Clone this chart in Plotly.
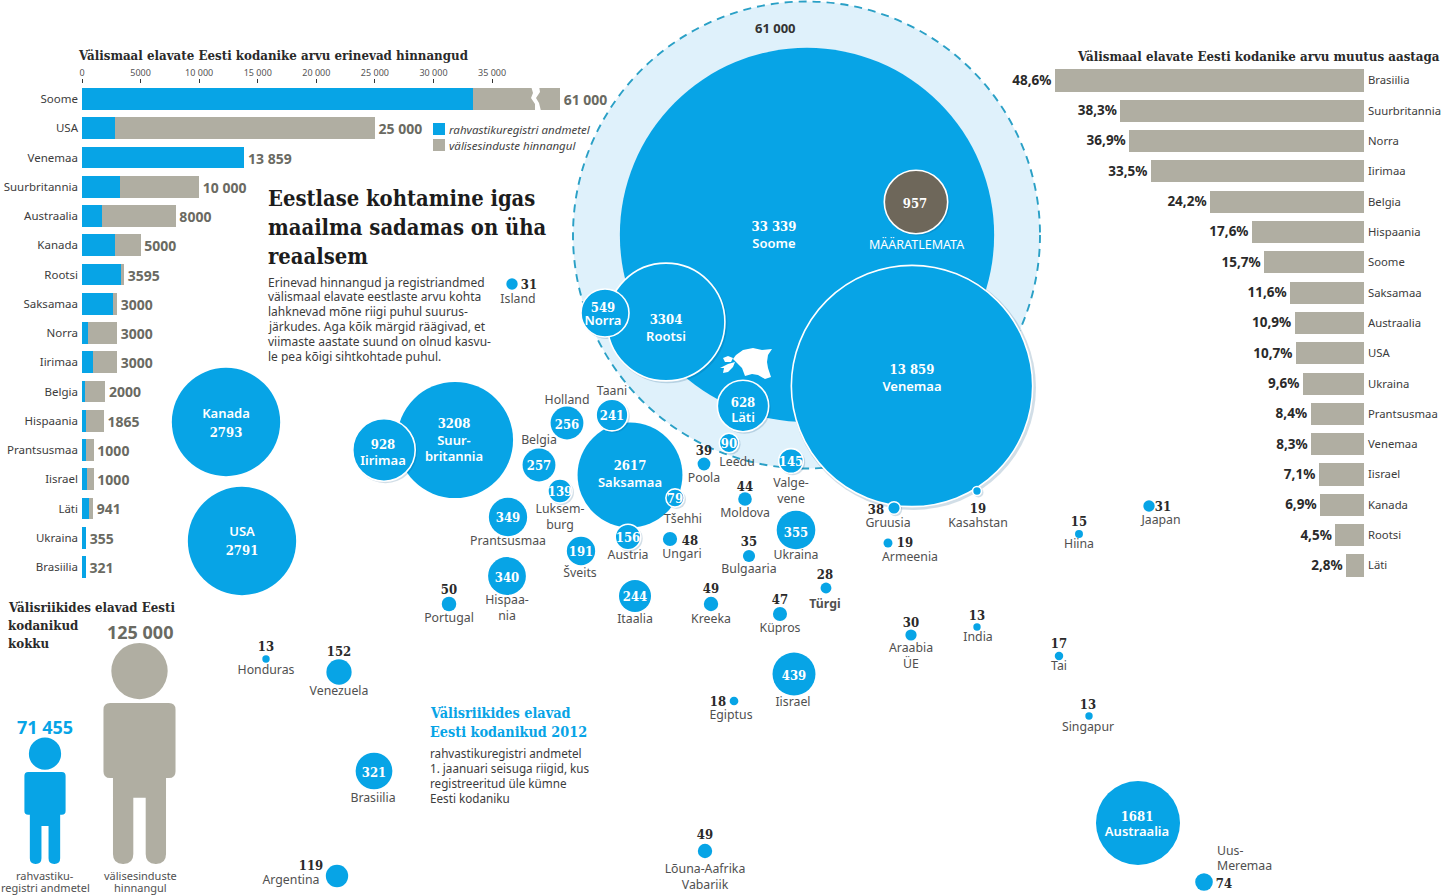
import plotly.graph_objects as go

# ---------- data ----------
EST_CATS = ["Soome","USA","Venemaa","Suurbritannia","Austraalia","Kanada","Rootsi","Saksamaa","Norra","Iirimaa","Belgia","Hispaania","Prantsusmaa","Iisrael","Läti","Ukraina","Brasiilia"]
EST_REGISTRY = [33339,2791,13859,3208,1681,2793,3304,2617,549,928,257,340,349,439,628,355,321]
EST_TOTAL = [61000,25000,13859,10000,8000,5000,3595,3000,3000,3000,2000,1865,1000,1000,941,355,321]
EST_LABELS = ["61 000","25 000","13 859","10 000","8000","5000","3595","3000","3000","3000","2000","1865","1000","1000","941","355","321"]
EST_TICKS = [0,5000,10000,15000,20000,25000,30000,35000]
EST_TICKTEXT = ["0","5000","10 000","15 000","20 000","25 000","30 000","35 000"]
LEGEND_NAMES = ["rahvastikuregistri andmetel","välisesinduste hinnangul"]

CHG_CATS = ["Brasiilia","Suurbritannia","Norra","Iirimaa","Belgia","Hispaania","Soome","Saksamaa","Austraalia","USA","Ukraina","Prantsusmaa","Venemaa","Iisrael","Kanada","Rootsi","Läti"]
CHG_VALS = [48.6,38.3,36.9,33.5,24.2,17.6,15.7,11.6,10.9,10.7,9.6,8.4,8.3,7.1,6.9,4.5,2.8]

TOTAL_REGISTRY = 71455
TOTAL_ESTIMATE = 125000

B_NAMES = ["Soome","Venemaa","Rootsi","Määratlemata","Norra","Läti","Kanada","USA","Iirimaa","Suurbritannia","Saksamaa","Island","Holland","Taani","Belgia","Luksemburg","Tšehhi","Austria","Prantsusmaa","Šveits","Hispaania","Portugal","Itaalia","Ungari","Poola","Leedu","Valgevene","Moldova","Ukraina","Bulgaaria","Türgi","Kreeka","Küpros","Iisrael","Egiptus","Gruusia","Armeenia","Kasahstan","Araabia ÜE","India","Hiina","Jaapan","Tai","Singapur","Austraalia","Uus-Meremaa","Lõuna-Aafrika","Argentina","Brasiilia","Venezuela","Honduras"]
B_VALUES = [33339,13859,3304,957,549,628,2793,2791,928,3208,2617,31,256,241,257,139,79,156,349,191,340,50,244,48,39,90,145,44,355,35,28,49,47,439,18,38,19,19,30,13,15,31,17,13,1681,74,49,119,321,152,13]
B_X = [807,912,666,916,605,743,226,242,384,455,630,512,567,612,539,560,675,628,508,581,507,449,635,670,704,729,791,745,796,749,826,711,780,794,734,894,888,977,911,977,1079,1149,1059,1089,1138,1204,705,337,374,339,266]
B_Y = [235,386,322,202,313,406,422,541,450,440,475,284,423,415,465,491,498,537,517,551,576,604,596,539,464,443,461,499,530,556,588,604,614,674,701,508,543,491,635,627,534,506,656,716,823,882,851,876,771,672,659]
OUTLINED = ["Iirimaa","Venemaa","Rootsi","Määratlemata","Norra","Läti","Taani","Luksemburg","Tšehhi","Austria","Leedu","Valgevene","Gruusia","Kasahstan"]

IN_NUM = ["33 339","13 859","3304","549","628","2793","2791","928","3208","2617","1681","957","256","241","257","139","79","156","349","191","340","244","90","145","355","439","321"]
IN_NUM_X = [774,912,666,603,743,226,242,383,454,630,1137,915,567,612,539,560,675,628,508,581,507,635,729,791,796,794,374]
IN_NUM_Y = [226,369,319,307,402,432,550,444,423,465,816,203,424,415,465,491,498,537,517,551,577,596,443,461,532,675,772]

IN_NAME = ["Soome","Venemaa","Rootsi","Norra","Läti","Kanada","USA","Iirimaa","Suur-","britannia","Saksamaa","Austraalia"]
IN_NAME_X = [774,912,666,603,743,226,242,383,454,454,630,1137]
IN_NAME_Y = [243,386,336,320,417,413,531,460,440,456,482,831]

NUM_TEXT = ["31","39","44","48","35","28","49","47","50","18","38","19","19","30","13","15","31","17","13","49","74","119","152","13"]
NUM_X = [529,704,745,690,749,825,711,780,449,718,876,905,978,911,977,1079,1163,1059,1088,705,1224,311,339,266]
NUM_Y = [284,450,486,540,541,574,588,599,589,701,509,542,508,622,615,521,506,643,704,834,883,865,651,646]

# y of each name's first line
NAME_TEXT = ["Island","Holland","Taani","Belgia","Luksem-<br>burg","Tšehhi","Austria","Prantsusmaa","Šveits","Hispaa-<br>nia","Portugal","Itaalia","Ungari","Poola","Leedu","Valge-<br>vene","Moldova","Ukraina","Bulgaaria","<b>Türgi</b>","Kreeka","Küpros","Iisrael","Egiptus","Gruusia","Armeenia","Kasahstan","Araabia<br>ÜE","India","Hiina","Jaapan","Tai","Singapur","Lõuna-Aafrika<br>Vabariik","Argentina","Brasiilia","Venezuela","Honduras"]
NAME_X = [518,567,612,539,560,683,628,508,580,507,449,635,682,704,737,791,745,796,749,825,711,780,793,731,888,910,978,911,978,1079,1161,1059,1088,705,291,373,339,266]
NAME_Y = [299,400,391,440,509,519,555,541,573,600,618,619,554,478,462,483,513,555,569,604,619,628,702,715,523,557,523,648,637,544,520,666,727,869,880,798,691,670]

PARA = ["Erinevad hinnangud ja registriandmed","välismaal elavate eestlaste arvu kohta","lahknevad mõne riigi puhul suurus-","järkudes. Aga kõik märgid räägivad, et","viimaste aastate suund on olnud kasvu-","le pea kõigi sihtkohtade puhul."]
HEAD = ["Eestlase kohtamine igas","maailma sadamas on üha","reaalsem"]
SUB = ["rahvastikuregistri andmetel","1. jaanuari seisuga riigid, kus","registreeritud üle kümne","Eesti kodaniku"]

# ---------- styles ----------
W, H = 1442, 895
BLUE = "#07a4e6"
GREY = "#b0aea2"
DARK = "#2a2a2a"
MID = "#505050"
NUMGREY = "#6a6a62"
SANS = "Noto Sans"
SLAB = "DejaVu Serif Condensed"
SIZEREF = 0.476
TEXT_DY = 1.8

fig = go.Figure()

ax_off = dict(visible=False, fixedrange=True, automargin=False)

def px_x(v): return v / W
def px_y(v): return 1 - v / H

# --- bubbles: plain ones first, then a soft shadow, then the outlined ones on top
plain = [i for i, n in enumerate(B_NAMES) if n not in OUTLINED]
lined = [B_NAMES.index(n) for n in OUTLINED]

fig.add_trace(go.Scatter(
    x=[B_X[i] for i in plain], y=[B_Y[i] for i in plain], mode="markers", xaxis="x", yaxis="y",
    showlegend=False, hoverinfo="skip",
    marker=dict(size=[B_VALUES[i] for i in plain], sizemode="area", sizeref=SIZEREF, color=BLUE, opacity=1, line_width=0)))
fig.add_trace(go.Scatter(
    x=[B_X[i] + 1.5 for i in lined], y=[B_Y[i] + 1.5 for i in lined], mode="markers", xaxis="x", yaxis="y",
    showlegend=False, hoverinfo="skip",
    marker=dict(size=[B_VALUES[i] * 1.03 + 4 for i in lined], sizemode="area", sizeref=SIZEREF,
                color="rgba(0,70,120,0.18)", opacity=1, line_width=0)))
fig.add_trace(go.Scatter(
    x=[B_X[i] for i in lined], y=[B_Y[i] for i in lined], mode="markers", xaxis="x", yaxis="y",
    showlegend=False, hoverinfo="skip",
    marker=dict(size=[B_VALUES[i] for i in lined], sizemode="area", sizeref=SIZEREF, opacity=1,
                color=["#6e675a" if B_NAMES[i] == "Määratlemata" else BLUE for i in lined],
                line=dict(color="white", width=1.6))))

def text_trace(x, y, text, family, size, color, weight="normal"):
    fig.add_trace(go.Scatter(x=x, y=[v + TEXT_DY for v in y], text=text, mode="text", xaxis="x", yaxis="y", showlegend=False,
        hoverinfo="skip", textposition="middle center", cliponaxis=False,
        textfont=dict(family=family, size=size, color=color, weight=weight)))

text_trace(IN_NUM_X, IN_NUM_Y, IN_NUM, SLAB, 13, "white", "bold")
text_trace(IN_NAME_X, IN_NAME_Y, IN_NAME, SANS, 13, "white", 600)
text_trace(NUM_X, NUM_Y, NUM_TEXT, SLAB, 13, DARK, "bold")

# country names hang from their first line
fig.add_trace(go.Scatter(x=NAME_X, y=[v + TEXT_DY - 7.5 for v in NAME_Y],
    text=NAME_TEXT, mode="text", xaxis="x", yaxis="y", showlegend=False, hoverinfo="skip",
    textposition="bottom center", cliponaxis=False, textfont=dict(family=SANS, size=12.3, color=MID)))

# --- left stacked bars
BAR_CAP = 40800
REST_SHOWN = [min(t, BAR_CAP) - r for t, r in zip(EST_TOTAL, EST_REGISTRY)]
TOTAL_SHOWN = [min(t, BAR_CAP) for t in EST_TOTAL]
fig.add_trace(go.Bar(y=EST_CATS, x=EST_REGISTRY, orientation="h", xaxis="x2", yaxis="y2", width=0.74,
    marker=dict(color=BLUE, line_width=0), showlegend=False, hoverinfo="skip"))
fig.add_trace(go.Bar(y=EST_CATS, x=REST_SHOWN, orientation="h", xaxis="x2", yaxis="y2", width=0.74,
    marker=dict(color=GREY, line_width=0), showlegend=False, hoverinfo="skip"))
fig.add_trace(go.Scatter(y=EST_CATS, x=TOTAL_SHOWN, text=["\u00a0" + s for s in EST_LABELS], mode="text", xaxis="x2", yaxis="y4",
    textposition="middle right", cliponaxis=False, showlegend=False, hoverinfo="skip",
    textfont=dict(family=SANS, size=14, color=NUMGREY, weight="bold")))

# legend keys
fig.add_trace(go.Scatter(x=[439,439], y=[129,145], mode="markers", xaxis="x", yaxis="y", showlegend=False, hoverinfo="skip",
    marker=dict(symbol="square", size=12, color=[BLUE, GREY], opacity=1, line_width=0)))

# --- right bars
fig.add_trace(go.Bar(y=CHG_CATS, x=CHG_VALS, orientation="h", xaxis="x3", yaxis="y3", width=0.73,
    marker=dict(color=GREY, line_width=0), showlegend=False, hoverinfo="skip"))
fig.add_trace(go.Scatter(y=CHG_CATS, x=CHG_VALS, text=[f"{v:.1f}%".replace(".", ",") + "\u00a0" for v in CHG_VALS],
    mode="text", xaxis="x3", yaxis="y5", textposition="middle left", cliponaxis=False, showlegend=False, hoverinfo="skip",
    textfont=dict(family=SANS, size=13.5, color=DARK, weight="bold")))

# --- shapes
def xy(*pts):
    return "M" + " L".join(f"{x},{y}" for x, y in pts) + " Z"

def person(cx, foot, h, color):
    """Pictogram whose height follows the value it stands for."""
    u = lambda k: k * h
    top = foot - h
    hw, lw, gw = u(.163), u(.12), u(.028)
    t0, t1, gt = top + u(.2715), top + u(.611), top + u(.70)
    c = u(.03)
    p = (f"M{cx-hw+c},{t0} L{cx+hw-c},{t0} Q{cx+hw},{t0} {cx+hw},{t0+c} L{cx+hw},{t1-c} Q{cx+hw},{t1} {cx+hw-c},{t1} L{cx+lw},{t1} "
         f"L{cx+lw},{foot-c*1.5} Q{cx+lw},{foot} {cx+lw-c*1.5},{foot} L{cx+gw+c*1.5},{foot} Q{cx+gw},{foot} {cx+gw},{foot-c*1.5} "
         f"L{cx+gw},{gt} L{cx-gw},{gt} L{cx-gw},{foot-c*1.5} Q{cx-gw},{foot} {cx-gw-c*1.5},{foot} L{cx-lw+c*1.5},{foot} Q{cx-lw},{foot} {cx-lw},{foot-c*1.5} "
         f"L{cx-lw},{t1} L{cx-hw+c},{t1} Q{cx-hw},{t1} {cx-hw},{t1-c} L{cx-hw},{t0+c} Q{cx-hw},{t0} {cx-hw+c},{t0} Z")
    r, hy = u(.1275), top + u(.127)
    return [dict(type="path", path=p, fillcolor=color, line_width=0, xref="x", yref="y", layer="below"),
            dict(type="circle", x0=cx-r, x1=cx+r, y0=hy-r, y1=hy+r, fillcolor=color, line_width=0, xref="x", yref="y", layer="below")]

PX_PER_PERSON = 221 / TOTAL_ESTIMATE
white_poly = dict(type="path", xref="x", yref="y", layer="above", fillcolor="white", line_width=0)
shapes = [
    dict(type="circle", x0=573, x1=1040, y0=1.5, y1=468.5, xref="x", yref="y", layer="below",
         fillcolor="#dff1fb", line=dict(color="#2aa0c6", width=1.9, dash="8px,6px")),
    # Estonia on the Finland bubble
    dict(white_poly, path=xy((736,355),(743,350),(753,348),(762,350),(772,349),(768,355),(767,362),(768,368),(771,377),(765,379),(758,375),(752,374),(745,376),(742,368),(737,363),(733,359))),
    dict(white_poly, path=xy((720,368),(728,364),(735,362),(733,367),(728,372),(723,373),(724,368))),
    dict(white_poly, path=xy((723,358),(728,356),(733,358),(731,362),(725,362))),
    # break in the Soome bar
    dict(white_poly, path=xy((531,86),(539,86),(540,92),(536,98),(539,103),(541,111),(535,111),(535,104),(531,98),(533,93))),
] + person(45, 864, TOTAL_REGISTRY * PX_PER_PERSON, BLUE) + person(139.5, 864, TOTAL_ESTIMATE * PX_PER_PERSON, GREY)

# --- free text
ann = []
def label(text, x, y, size, color=DARK, family=SANS, bold=False, italic=False, anchor="left"):
    t = text
    if bold: t = f"<b>{t}</b>"
    if italic: t = f"<i>{t}</i>"
    ann.append(dict(text=t, x=x, y=y, xref="x", yref="y", xanchor=anchor, yanchor="middle", showarrow=False,
                    align=anchor, font=dict(size=size, color=color, family=family)))

label("Välismaal elavate Eesti kodanike arvu erinevad hinnangud", 76, 55, 13.2, family=SLAB, bold=True)
label("Välismaal elavate Eesti kodanike arvu muutus aastaga", 1075, 56, 13.2, family=SLAB, bold=True)
for i, line in enumerate(HEAD):
    label(line, 266, 198 + i * 29, 21.8, color="#1c1c1c", family=SLAB, bold=True)
for i, line in enumerate(PARA):
    label(line, 266, 282 + i * 14.8, 12, color="#3c3c3c")
label("Välisriikides elavad Eesti", 6, 607, 13.2, family=SLAB, bold=True)
label("kodanikud", 6, 625, 13.2, family=SLAB, bold=True)
label("kokku", 6, 643, 13.2, family=SLAB, bold=True)
label("125 000", 139.5, 632, 18, color=NUMGREY, bold=True, anchor="center")
label("71 455", 45, 727, 18, color=BLUE, bold=True, anchor="center")
label("rahvastiku-", 45, 875, 11, color=MID, anchor="center")
label("registri andmetel", 45, 887, 11, color=MID, anchor="center")
label("välisesinduste", 140, 875, 11, color=MID, anchor="center")
label("hinnangul", 140, 887, 11, color=MID, anchor="center")
label("Välisriikides elavad", 428, 713, 14.3, color=BLUE, family=SLAB, bold=True)
label("Eesti kodanikud 2012", 428, 732, 14.3, color=BLUE, family=SLAB, bold=True)
for i, line in enumerate(SUB):
    label(line, 428, 753 + i * 15, 11.7, color="#3c3c3c")
label("Uus-", 1215, 850, 12.3, color=MID)
label("Meremaa", 1215, 865, 12.3, color=MID)
label("61 000", 775, 28, 13, color="#333333", bold=True, anchor="center")
label("MÄÄRATLEMATA", 916, 244, 12.5, color="white", anchor="center")
for nm, yy in zip(LEGEND_NAMES, [129, 145]):
    label(nm, 447, yy, 11.5, color="#444444", italic=True)

# --- axes
L_SCALE = 11.717 / 1000
L_X0, L_X1 = 82, 566
R_SCALE = 6.36
R_X0, R_X1 = 1000, 1364
L_TOP, L_BOT = 84.4, 581.6
R_TOP, R_BOT = 65.3, 580.6

hidden_cat = dict(type="category", range=[16.5,-0.5], categoryorder="array", visible=False, fixedrange=True, automargin=False)

fig.update_layout(
    width=W, height=H, margin=dict(l=0, r=0, t=0, b=0), autosize=False,
    paper_bgcolor="white", plot_bgcolor="rgba(0,0,0,0)", barmode="stack",
    shapes=shapes, annotations=ann, showlegend=False,
    xaxis=dict(domain=[0,1], range=[0,W], **ax_off),
    yaxis=dict(domain=[0,1], range=[H,0], **ax_off),
    xaxis2=dict(domain=[px_x(L_X0), px_x(L_X1)], range=[0,(L_X1-L_X0)/L_SCALE], anchor="y2", side="top", automargin=False,
                tickvals=EST_TICKS, ticktext=EST_TICKTEXT, ticks="outside", ticklen=4, tickwidth=1, tickcolor="#333333",
                tickfont=dict(family=SANS, size=9, color="#555555"), showgrid=False, zeroline=False, showline=False, fixedrange=True),
    yaxis2=dict(domain=[px_y(L_BOT), px_y(L_TOP)], type="category", categoryorder="array", categoryarray=EST_CATS, range=[16.5,-0.5],
                anchor="x2", ticks="", ticklabelstandoff=3, automargin=False,
                tickfont=dict(family=SANS, size=11.5, color="#3c3c3c"), showgrid=False, zeroline=False, showline=False, fixedrange=True),
    yaxis4=dict(domain=[px_y(L_BOT + 2.5), px_y(L_TOP + 2.5)], categoryarray=EST_CATS, anchor="x2", **hidden_cat),
    xaxis3=dict(domain=[px_x(R_X0), px_x(R_X1)], range=[(R_X1-R_X0)/R_SCALE,0], anchor="y3", visible=False, fixedrange=True, automargin=False),
    yaxis3=dict(domain=[px_y(R_BOT), px_y(R_TOP)], type="category", categoryorder="array", categoryarray=CHG_CATS, range=[16.5,-0.5],
                anchor="x3", side="right", ticks="", ticklabelstandoff=3, automargin=False,
                tickfont=dict(family=SANS, size=11.3, color="#3c3c3c"), showgrid=False, zeroline=False, showline=False, fixedrange=True),
    yaxis5=dict(domain=[px_y(R_BOT + 1), px_y(R_TOP + 1)], categoryarray=CHG_CATS, anchor="x3", **hidden_cat),
)

fig.write_html("out.html", config=dict(displayModeBar=False),
               post_script="document.body.style.margin='0';document.body.style.overflow='hidden';")
